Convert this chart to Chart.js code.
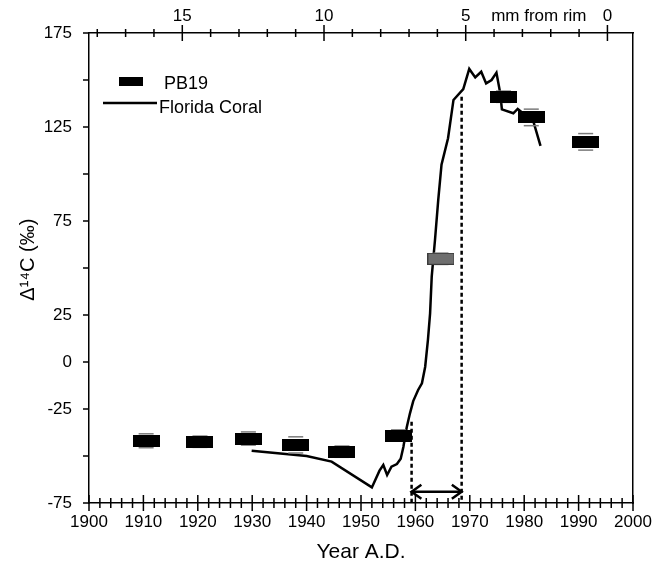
<!DOCTYPE html>
<html>
<head>
<meta charset="utf-8">
<title>PB19 vs Florida coral</title>
<script src="https://cdn.jsdelivr.net/npm/chart.js@4.4.0/dist/chart.umd.min.js"></script>
<style>
  html, body { margin: 0; padding: 0; background: #fff; }
  #wrap { width: 661px; height: 575px; }
</style>
</head>
<body>
<div id="wrap"><canvas id="chart" width="661" height="575"></canvas></div>
<script>
// ---- data -------------------------------------------------------
// PB19 samples (black boxes)
const PB_YEAR  = [1910.5, 1920.4, 1929.3, 1938.0, 1946.5, 1956.9, 1976.2, 1981.3, 1991.3];
const PB_VALUE = [-41.9, -42.4, -40.7, -44.1, -47.7, -39.1, 141.1, 130.1, 117.1];
const PB_ERR   = [3.7, 3.0, 3.5, 4.3, 3.0, 3.0, 3.0, 4.4, 4.4];

// PB19 sample on the rise (grey box)
const MID_YEAR  = [1964.7];
const MID_VALUE = [54.9];
const MID_ERR   = [3.0];

// Florida coral record
const CORAL_YEAR = [1929.9, 1940.0, 1944.6, 1952.0, 1953.4, 1954.1, 1954.8, 1955.6, 1956.6,
  1957.3, 1957.8, 1958.4, 1959.0, 1959.6, 1960.5, 1961.2, 1961.8, 1962.3, 1962.7, 1963.0,
  1963.6, 1964.2, 1964.8, 1966.0, 1967.0, 1968.8, 1969.9, 1971.0, 1972.1, 1973.0, 1974.0,
  1974.9, 1975.6, 1975.9, 1978.0, 1978.8, 1981.7, 1983.0];
const CORAL_VALUE = [-47.2, -50.0, -53.0, -66.7, -57.8, -54.8, -60.1, -55.7, -54.3,
  -51.5, -45.1, -34.8, -27.3, -20.8, -14.9, -11.3, -2.5, 11.7, 25.9, 45.4,
  64.9, 86.2, 105.0, 119.0, 139.4, 145.2, 155.9, 151.4, 154.4, 148.2, 150.0,
  153.9, 142.9, 134.4, 132.3, 134.6, 127.8, 115.0];

// dashed bracket (bomb onset -> peak) and arrow between them
const BRACKET_YEAR = [1959.3, 1968.5];
const BRACKET_TOP  = [-31.8, 141.1];
const ARROW_VALUE  = -69;

// axes
const YEAR_LABELS = [1900, 1910, 1920, 1930, 1940, 1950, 1960, 1970, 1980, 1990, 2000];
const MM_LABELS   = [0, 5, 10, 15];
const Y_LABELS    = [175, 125, 75, 25, 0, -25, -75];
const RIM_YEAR = 1995.3;     // year at 0 mm
const YEARS_PER_MM = 5.21;
const MM_TITLE_AT = 2.42;    // where "mm from rim" sits on the top axis

// ---- helpers ----------------------------------------------------
function boxImage(fill, stroke) {
  const c = document.createElement('canvas');
  c.width = 27; c.height = 12;
  const g = c.getContext('2d');
  g.fillStyle = fill;
  g.fillRect(0, 0, 27, 12);
  if (stroke) { g.strokeStyle = stroke; g.lineWidth = 1; g.strokeRect(0.5, 0.5, 26, 11); }
  return c;
}

function pts(xs, ys) { return xs.map((x, i) => ({ x, y: ys[i] })); }

function capPoints(xs, ys, es) {
  const out = [];
  xs.forEach((x, i) => { out.push({ x, y: ys[i] + es[i] }); out.push({ x, y: ys[i] - es[i] }); });
  return out;
}

function range(a, b, step) { const r = []; for (let v = a; v <= b + 1e-9; v += step) r.push(v); return r; }

const YEAR_TICKS = range(1900, 2000, 2);
const MM_TICKS = range(0, 18, 1).concat([MM_TITLE_AT]);
const Y_TICKS = range(-75, 175, 25);

// arrow heads built from the bracket years
const HEAD_DX = 1.8, HEAD_DY = 3.7;
const arrowL = [
  { x: BRACKET_YEAR[0] + HEAD_DX, y: ARROW_VALUE + HEAD_DY },
  { x: BRACKET_YEAR[0], y: ARROW_VALUE },
  { x: BRACKET_YEAR[0] + HEAD_DX, y: ARROW_VALUE - HEAD_DY }
];
const arrowR = [
  { x: BRACKET_YEAR[1] - HEAD_DX, y: ARROW_VALUE + HEAD_DY },
  { x: BRACKET_YEAR[1], y: ARROW_VALUE },
  { x: BRACKET_YEAR[1] - HEAD_DX, y: ARROW_VALUE - HEAD_DY }
];

// ---- plugins ----------------------------------------------------
const tickMarks = {
  id: 'tickMarks',
  afterDraw(chart) {
    const { ctx, chartArea: a, scales } = chart;
    ctx.save();
    ctx.strokeStyle = '#000';
    ctx.lineWidth = 1.5;
    ctx.beginPath();
    scales.x.ticks.forEach(t => {
      const px = scales.x.getPixelForValue(t.value);
      const len = t.value % 10 === 0 ? 8 : 5;
      ctx.moveTo(px, a.bottom - len); ctx.lineTo(px, a.bottom + len);
    });
    scales.x2.ticks.forEach(t => {
      if (!Number.isInteger(t.value)) return;
      const px = scales.x2.getPixelForValue(t.value);
      const len = t.value % 5 === 0 ? 8 : 4;
      ctx.moveTo(px, a.top - len); ctx.lineTo(px, a.top + len);
    });
    scales.y.ticks.forEach(t => {
      const py = scales.y.getPixelForValue(t.value);
      ctx.moveTo(a.left - 6, py); ctx.lineTo(a.left, py);
    });
    ctx.stroke();
    ctx.restore();
  }
};

const legendBox = {
  id: 'legendBox',
  afterDraw(chart) {
    const ctx = chart.ctx;
    ctx.save();
    ctx.fillStyle = '#000';
    ctx.fillRect(119, 77, 24, 9);
    ctx.strokeStyle = '#000';
    ctx.lineWidth = 2.5;
    ctx.beginPath();
    ctx.moveTo(103, 103); ctx.lineTo(157, 103);
    ctx.stroke();
    ctx.font = "18px 'Liberation Sans', Arial, sans-serif";
    ctx.textBaseline = 'alphabetic';
    ctx.fillText('PB19', 164, 89);
    ctx.fillText('Florida Coral', 159, 113);
    ctx.restore();
  }
};

// ---- chart ------------------------------------------------------
Chart.defaults.font.family = "'Liberation Sans', Arial, sans-serif";
Chart.defaults.color = '#000';

const axisBorder = { display: true, color: '#000', width: 1.5 };
const noGrid = { display: false, drawTicks: false };

new Chart(document.getElementById('chart'), {
  type: 'scatter',
  data: {
    datasets: [
      {
        label: 'PB19',
        data: pts(PB_YEAR, PB_VALUE),
        pointStyle: boxImage('#000'),
        pointRadius: 8,
        order: 0
      },
      {
        label: 'PB19 (rise)',
        data: pts(MID_YEAR, MID_VALUE),
        pointStyle: boxImage('#6e6e6e', '#3c3c3c'),
        pointRadius: 8,
        order: 0
      },
      {
        label: 'errors',
        data: capPoints(PB_YEAR.concat(MID_YEAR), PB_VALUE.concat(MID_VALUE), PB_ERR.concat(MID_ERR)),
        pointStyle: 'line',
        pointRadius: 7.5,
        pointBorderColor: '#7a7a7a',
        pointBorderWidth: 1.5,
        order: 1
      },
      {
        label: 'Florida Coral',
        data: pts(CORAL_YEAR, CORAL_VALUE),
        showLine: true,
        borderColor: '#000',
        borderWidth: 2.5,
        pointRadius: 0,
        tension: 0,
        order: 2
      },
      {
        label: 'onset',
        data: [{ x: BRACKET_YEAR[0], y: BRACKET_TOP[0] }, { x: BRACKET_YEAR[0], y: -75 }],
        showLine: true, borderColor: '#000', borderWidth: 2.5, borderDash: [4, 3], pointRadius: 0, order: 3
      },
      {
        label: 'peak',
        data: [{ x: BRACKET_YEAR[1], y: BRACKET_TOP[1] }, { x: BRACKET_YEAR[1], y: -75 }],
        showLine: true, borderColor: '#000', borderWidth: 2.5, borderDash: [4, 3], pointRadius: 0, order: 3
      },
      {
        label: 'arrow',
        data: [{ x: BRACKET_YEAR[0], y: ARROW_VALUE }, { x: BRACKET_YEAR[1], y: ARROW_VALUE }],
        showLine: true, borderColor: '#000', borderWidth: 2.5, pointRadius: 0, order: 3
      },
      { label: 'headL', data: arrowL, showLine: true, borderColor: '#000', borderWidth: 2.5, pointRadius: 0, order: 3 },
      { label: 'headR', data: arrowR, showLine: true, borderColor: '#000', borderWidth: 2.5, pointRadius: 0, order: 3 }
    ]
  },
  options: {
    responsive: false,
    animation: false,
    layout: { padding: { left: 0, right: 28, top: 0, bottom: 0 } },
    plugins: { legend: { display: false }, tooltip: { enabled: false } },
    scales: {
      x: {
        type: 'linear', position: 'bottom', min: 1900, max: 2000,
        afterBuildTicks: s => { s.ticks = YEAR_TICKS.map(v => ({ value: v })); },
        afterFit: s => { s.height = 72; },
        grid: noGrid, border: axisBorder,
        ticks: {
          autoSkip: false, maxRotation: 0, padding: 9, font: { size: 17 },
          callback: v => YEAR_LABELS.includes(v) ? String(v) : ''
        },
        title: { display: true, text: 'Year A.D.', font: { size: 21 }, padding: { top: 0, bottom: 10 } }
      },
      x2: {
        type: 'linear', position: 'top', reverse: true,
        min: (RIM_YEAR - 2000) / YEARS_PER_MM, max: (RIM_YEAR - 1900) / YEARS_PER_MM,
        afterBuildTicks: s => { s.ticks = MM_TICKS.map(v => ({ value: v })); },
        afterFit: s => { s.height = 33; },
        grid: noGrid, border: axisBorder,
        ticks: {
          autoSkip: false, maxRotation: 0, padding: 6, font: { size: 17 },
          callback: v => MM_LABELS.includes(v) ? String(v) : (v === MM_TITLE_AT ? 'mm from rim' : '')
        }
      },
      y: {
        type: 'linear', position: 'left', min: -75, max: 175,
        afterBuildTicks: s => { s.ticks = Y_TICKS.map(v => ({ value: v })); },
        afterFit: s => { s.width = 89; },
        grid: noGrid, border: axisBorder,
        ticks: {
          autoSkip: false, padding: 17, font: { size: 17 },
          callback: v => Y_LABELS.includes(v) ? String(v) : ''
        },
        // leading spaces nudge the rotated title up a little
        title: { display: true, text: '   \u0394\u00B9\u2074C (\u2030)', font: { size: 20 }, padding: { top: 16, bottom: 0 } }
      },
      y2: {
        type: 'linear', position: 'right', min: -75, max: 175,
        afterFit: s => { s.width = 0; },
        grid: noGrid, border: axisBorder,
        ticks: { display: false }
      }
    }
  },
  plugins: [tickMarks, legendBox]
});
</script>
</body>
</html>
